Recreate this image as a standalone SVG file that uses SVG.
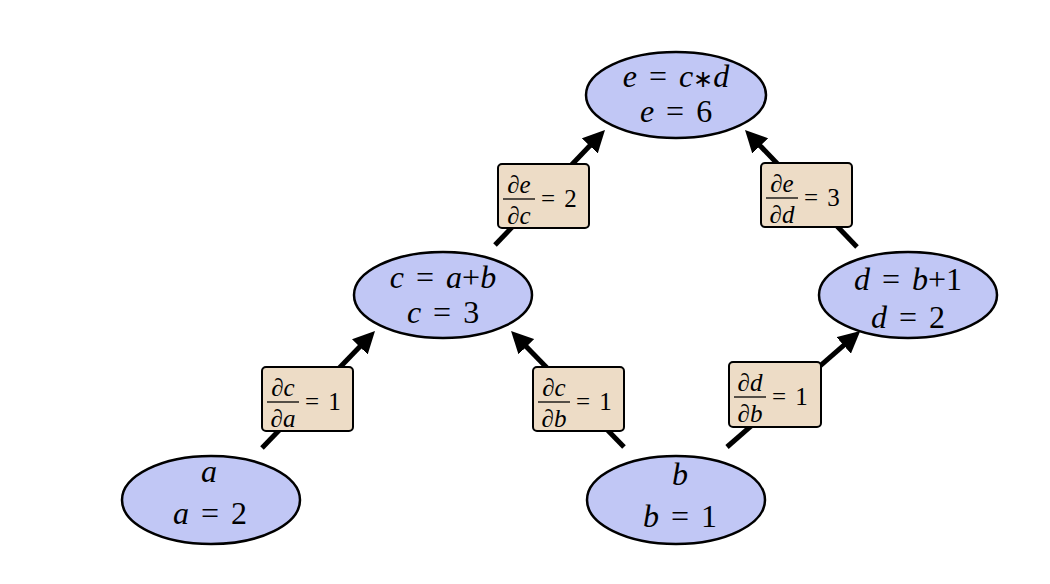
<svg xmlns="http://www.w3.org/2000/svg" width="1050" height="584" viewBox="0 0 1050 584">
<style>
.node{fill:#c1c7f5;stroke:#000;stroke-width:2.5}
.lbl{fill:#eddcc6;stroke:#000;stroke-width:2}
.edge{stroke:#000;stroke-width:5;fill:none;marker-end:url(#ah)}
text{font-family:"Liberation Serif","Times New Roman",serif;fill:#000}
.nt{font-size:32px;text-anchor:middle;word-spacing:4px}
.ft{font-size:25px;text-anchor:middle;font-style:italic}
.eq{font-size:25px;word-spacing:3px}
.i{font-style:italic}
.ast{font-size:24px}
.bar{stroke:#000;stroke-width:1.3}
</style>
<defs>
<marker id="ah" markerUnits="userSpaceOnUse" viewBox="0 0 22 22" markerWidth="22" markerHeight="22" refX="8" refY="11" orient="auto">
<path d="M0,0 L22,11 L0,22 Z" fill="#000"/>
</marker>
</defs>
<rect width="1050" height="584" fill="#fff"/>
<g id="connectors">
<line class="edge" x1="262" y1="448" x2="365.3" y2="341.1"/>
<line class="edge" x1="495" y1="245" x2="595.3" y2="140.1"/>
<line class="edge" x1="857" y1="247" x2="754.7" y2="140.1"/>
<line class="edge" x1="624" y1="447" x2="520.8" y2="341"/>
<line class="edge" x1="727" y1="447" x2="849.7" y2="340.1"/>
</g>
<g id="node-e">
<ellipse class="node" cx="676" cy="95" rx="90" ry="43"/>
<text class="nt" x="676" y="87"><tspan class="i">e</tspan> = <tspan class="i">c</tspan><tspan class="ast">∗</tspan><tspan class="i">d</tspan></text>
<text class="nt" x="676" y="122"><tspan class="i">e</tspan> = 6</text>
</g>
<g id="node-c">
<ellipse class="node" cx="443" cy="295" rx="89" ry="43"/>
<text class="nt" x="443" y="288"><tspan class="i">c</tspan> = <tspan class="i">a</tspan>+<tspan class="i">b</tspan></text>
<text class="nt" x="443" y="323"><tspan class="i">c</tspan> = 3</text>
</g>
<g id="node-d">
<ellipse class="node" cx="908" cy="295" rx="89" ry="43"/>
<text class="nt" x="908" y="290"><tspan class="i">d</tspan> = <tspan class="i">b</tspan>+1</text>
<text class="nt" x="908" y="328"><tspan class="i">d</tspan> = 2</text>
</g>
<g id="node-a">
<ellipse class="node" cx="211" cy="500" rx="89" ry="44"/>
<text class="nt i" x="209" y="482">a</text>
<text class="nt" x="210" y="524"><tspan class="i">a</tspan> = 2</text>
</g>
<g id="node-b">
<ellipse class="node" cx="676" cy="500" rx="89" ry="44"/>
<text class="nt i" x="680" y="485">b</text>
<text class="nt" x="680" y="527"><tspan class="i">b</tspan> = 1</text>
</g>
<g id="label-de-dc">
<rect class="lbl" x="498" y="164" width="91" height="64" rx="4"/>
<text class="ft" x="519" y="193">∂e</text>
<line class="bar" x1="503" y1="199" x2="535" y2="199"/>
<text class="ft" x="519" y="224">∂c</text>
<text class="eq" x="541" y="207">= 2</text>
</g>
<g id="label-de-dd">
<rect class="lbl" x="761" y="163" width="91" height="64" rx="4"/>
<text class="ft" x="782" y="192">∂e</text>
<line class="bar" x1="766" y1="198" x2="798" y2="198"/>
<text class="ft" x="782" y="223">∂d</text>
<text class="eq" x="804" y="206">= 3</text>
</g>
<g id="label-dc-da">
<rect class="lbl" x="262" y="367" width="91" height="64" rx="4"/>
<text class="ft" x="283" y="396">∂c</text>
<line class="bar" x1="267" y1="402" x2="299" y2="402"/>
<text class="ft" x="283" y="427">∂a</text>
<text class="eq" x="305" y="410">= 1</text>
</g>
<g id="label-dc-db">
<rect class="lbl" x="533" y="367" width="91" height="64" rx="4"/>
<text class="ft" x="554" y="396">∂c</text>
<line class="bar" x1="538" y1="402" x2="570" y2="402"/>
<text class="ft" x="554" y="427">∂b</text>
<text class="eq" x="576" y="410">= 1</text>
</g>
<g id="label-dd-db">
<rect class="lbl" x="729" y="362" width="92" height="65" rx="4"/>
<text class="ft" x="750" y="391">∂d</text>
<line class="bar" x1="734" y1="397" x2="766" y2="397"/>
<text class="ft" x="750" y="422">∂b</text>
<text class="eq" x="772" y="405">= 1</text>
</g>
</svg>
